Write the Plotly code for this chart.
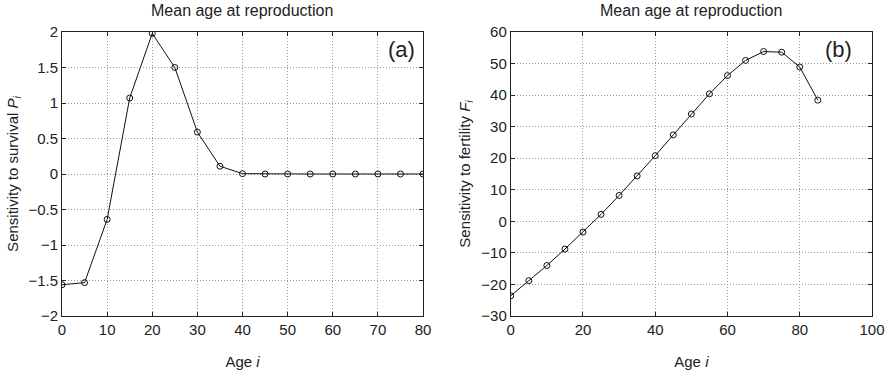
import plotly.graph_objects as go

age_a = [0, 5, 10, 15, 20, 25, 30, 35, 40, 45, 50, 55, 60, 65, 70, 75, 80]
sens_survival = [-1.56, -1.53, -0.64, 1.07, 1.98, 1.50, 0.59, 0.11, 0.005, 0, 0, 0, 0, 0, 0, 0, 0]

age_b = [0, 5, 10, 15, 20, 25, 30, 35, 40, 45, 50, 55, 60, 65, 70, 75, 80, 85]
sens_fertility = [-23.6, -18.8, -14.0, -8.8, -3.4, 2.2, 8.2, 14.4, 20.8, 27.4, 34.0, 40.4,
                  46.2, 51.0, 53.8, 53.6, 48.9, 38.4]

panel_title = "Mean age at reproduction"
xlabel = "Age <i>i</i>"
ylabel_a = "Sensitivity to survival <i>P<sub>i</sub></i>"
ylabel_b = "Sensitivity to fertility <i>F<sub>i</sub></i>"

FONT = "Liberation Sans, Arial, Helvetica, sans-serif"

fig = go.Figure()
line_style = dict(color="#111111", width=1)
marker_style = dict(symbol="circle-open", size=6, color="#111111", line=dict(width=1, color="#111111"))

fig.add_trace(go.Scatter(x=age_a, y=sens_survival, mode="lines+markers", line=line_style,
                         marker=marker_style, xaxis="x", yaxis="y", showlegend=False))
fig.add_trace(go.Scatter(x=age_b, y=sens_fertility, mode="lines+markers", line=line_style,
                         marker=marker_style, xaxis="x2", yaxis="y2", showlegend=False))

common = dict(showline=True, linecolor="#222222", linewidth=1, mirror="ticks",
              ticks="inside", ticklen=4, tickcolor="#222222", automargin=False,
              showgrid=True, gridcolor="#9a9a9a", griddash="1px,2px", gridwidth=1,
              zeroline=False, tickfont=dict(family=FONT, size=15, color="#222222"))

fig.update_layout(
    width=890, height=373,
    margin=dict(l=62, r=18, t=32, b=57),
    paper_bgcolor="white", plot_bgcolor="white",
    font=dict(family=FONT, color="#222222"),
    xaxis=dict(domain=[0, 0.4457], range=[0, 80], dtick=10, anchor="y",
               title=dict(text=xlabel, font=dict(size=15), standoff=19), **common),
    yaxis=dict(domain=[0, 1], range=[-2, 2], dtick=0.5, anchor="x",
               title=dict(text=ylabel_a, font=dict(size=15), standoff=6), **common),
    xaxis2=dict(domain=[0.554, 1], range=[0, 100], dtick=20, anchor="y2",
                title=dict(text=xlabel, font=dict(size=15), standoff=19), **common),
    yaxis2=dict(domain=[0, 1], range=[-30, 60], dtick=10, anchor="x2",
                title=dict(text=ylabel_b, font=dict(size=15), standoff=7), **common),
    annotations=[
        dict(text=panel_title, x=0.2228, y=1, xref="paper", yref="paper", xanchor="center",
             yanchor="bottom", yshift=11, showarrow=False, font=dict(size=16, family=FONT)),
        dict(text=panel_title, x=0.777, y=1, xref="paper", yref="paper", xanchor="center",
             yanchor="bottom", yshift=11, showarrow=False, font=dict(size=16, family=FONT)),
        dict(text="(a)", x=0.983, y=0.94, xref="x domain", yref="y domain", xanchor="right",
             yanchor="middle", showarrow=False, font=dict(size=22, family=FONT)),
        dict(text="(b)", x=0.95, y=0.94, xref="x2 domain", yref="y2 domain", xanchor="right",
             yanchor="middle", showarrow=False, font=dict(size=22, family=FONT)),
    ],
)

fig.write_html("out.html", config={"displayModeBar": False},
               post_script="document.body.style.margin='0px';")
